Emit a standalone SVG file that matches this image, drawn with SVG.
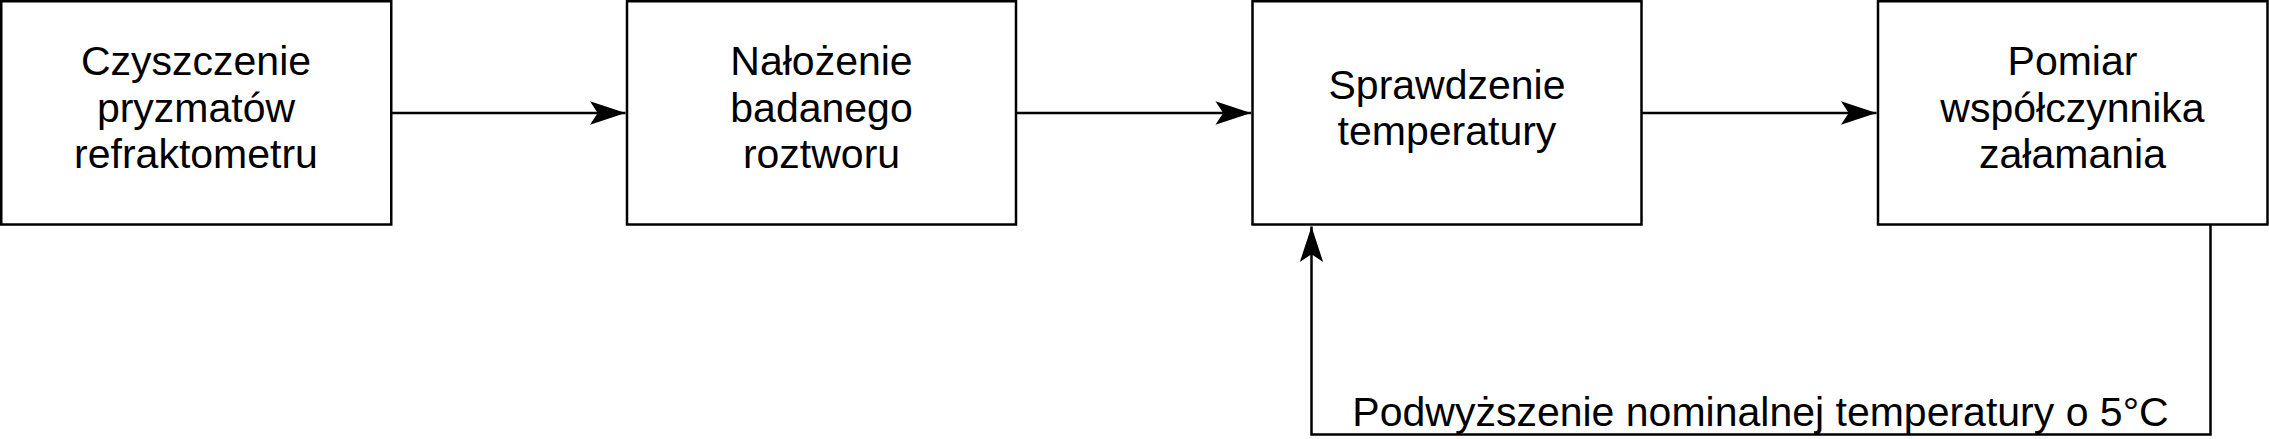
<svg xmlns="http://www.w3.org/2000/svg" width="2269" height="439" viewBox="0 0 2269 439">
<style>
.box{fill:#fff;stroke:#000;stroke-width:2.5}
.lbl{font-family:"Liberation Sans",Arial,sans-serif;font-size:41px;fill:#000;text-anchor:middle}
.con{fill:none;stroke:#000;stroke-width:2.5}
</style>
<defs>
<marker id="arr" markerUnits="userSpaceOnUse" markerWidth="40" markerHeight="30" viewBox="-34 -12 36 24" refX="0" refY="0" orient="auto">
<path d="M0,0 L-32,-10.5 L-25,0 L-32,10.5 Z" fill="#000"/>
</marker>
</defs>
<rect width="2269" height="439" fill="#fff"/>
<g id="n1">
<rect class="box" x="1.25" y="1.25" width="390" height="223.25"/>
<text class="lbl" x="196" y="75">Czyszczenie</text>
<text class="lbl" x="196" y="121.5">pryzmatów</text>
<text class="lbl" x="196" y="168">refraktometru</text>
</g>
<g id="n2">
<rect class="box" x="627" y="1.25" width="389" height="223.25"/>
<text class="lbl" x="821.5" y="75">Nałożenie</text>
<text class="lbl" x="821.5" y="121.5">badanego</text>
<text class="lbl" x="821.5" y="168">roztworu</text>
</g>
<g id="n3">
<rect class="box" x="1252.5" y="1.25" width="389" height="223.25"/>
<text class="lbl" x="1447" y="99">Sprawdzenie</text>
<text class="lbl" x="1447" y="145">temperatury</text>
</g>
<g id="n4">
<rect class="box" x="1878" y="1.25" width="389.5" height="223.25"/>
<text class="lbl" x="2072.5" y="75">Pomiar</text>
<text class="lbl" x="2072.5" y="121.5">współczynnika</text>
<text class="lbl" x="2072.5" y="168">załamania</text>
</g>
<g id="connectors">
<path class="con" d="M391.25,113 H625.5" marker-end="url(#arr)"/>
<path class="con" d="M1016,113 H1251" marker-end="url(#arr)"/>
<path class="con" d="M1641.5,113 H1876.5" marker-end="url(#arr)"/>
<path class="con" d="M2210.5,224.5 V434.5 H1311.5 V226.5" marker-end="url(#arr)"/>
<text class="lbl" x="1760.5" y="426">Podwyższenie nominalnej temperatury o 5°C</text>
</g>
</svg>
